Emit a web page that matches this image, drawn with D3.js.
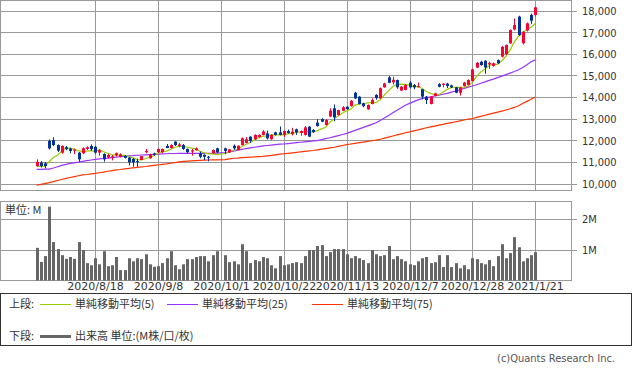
<!DOCTYPE html>
<html><head><meta charset="utf-8">
<script src="https://cdn.jsdelivr.net/npm/d3@7"></script>
<style>body{margin:0;background:#fff}svg{display:block}</style>
</head><body>
<script>
// ---- data (index 44 = 2020/10/1, no trading) ----
const opens=[10830,10990,10950,11990,12030,11800,11450,11700,11640,11540,
11450,11420,11620,11760,11720,11450,11390,11230,11210,11320,
11250,11300,11220,11160,11060,11110,11470,11190,11410,11470,
11470,11760,11660,11960,11760,11800,11620,11500,11560,11420,
11350,11260,11420,11650,null,11650,11460,11770,11570,11800,
11900,12190,12070,12170,12270,12340,12070,12390,12390,12270,
12450,12300,12530,12360,12270,12650,12500,12840,13000,12730,
13120,13500,13190,13390,13570,13600,14220,14040,13730,13450,
13700,14120,13960,14470,14930,14700,14810,14320,14350,14690,
14580,14480,14380,14040,13700,14070,14620,14580,14640,14560,
14470,14220,14530,14580,14760,15380,15650,15700,15530,15460,
15730,15890,16010,16510,17150,17740,16510,17100,17820,17810];
const highs=[11140,11060,11020,12060,12160,11830,11790,11760,11680,11630,
11480,11700,11740,11830,11760,11600,11420,11390,11340,11460,
11420,11340,11250,11200,11180,11300,11620,11400,11450,11640,
11640,11850,11840,11980,11900,11850,11640,11620,11690,11500,
11380,11300,11600,11680,null,11680,11620,11830,11790,12160,
12170,12200,12300,12300,12490,12470,12300,12420,12660,12480,
12520,12600,12560,12480,12680,12680,12540,13000,13040,12990,
13500,13680,13440,13600,13600,13880,14260,14060,13760,13680,
13960,14150,14460,14680,15000,14960,14830,14530,14620,14760,
14620,14690,14400,14070,14060,14220,14660,14660,14680,14590,
14490,14490,14720,14840,15330,15640,15700,15720,15660,15620,
15760,16380,16450,17150,17650,17780,17070,17470,17880,18200];
const lows=[10800,10760,10720,11600,11750,11480,11400,11560,11420,11380,
11030,11380,11570,11540,11400,11310,11030,11180,11090,11270,
11230,11180,10860,10800,10800,11100,11420,11170,11300,11440,
11440,11700,11640,11760,11700,11580,11410,11310,11540,11190,
11100,11050,11400,11430,null,11380,11440,11580,11550,11790,
11880,11900,12040,12150,12250,12060,12040,12240,12250,12180,
12330,12250,12270,12230,12230,12170,12360,12650,12860,12700,
13090,12900,13160,13370,13440,13580,13930,13680,13550,13430,
13680,13900,13940,14450,14660,14600,14400,14300,14330,14420,
14380,14470,13920,13700,13680,14050,14470,14470,14440,14440,
14200,14090,14510,14560,14740,15360,15470,15100,15320,15420,
15550,15850,15960,16480,17100,16850,16450,17050,17400,17750];
const closes=[11030,10830,10830,11650,11800,11540,11760,11610,11530,11590,
11140,11650,11700,11610,11450,11560,11140,11340,11280,11420,
11370,11210,11000,11000,11030,11290,11530,11370,11350,11620,
11620,11660,11800,11800,11830,11620,11470,11560,11650,11260,
11260,11230,11570,11460,null,11530,11600,11650,11770,12110,
12070,11990,12270,12270,12430,12110,12270,12270,12270,12450,
12360,12420,12390,12450,12620,12190,12400,12680,12880,12960,
13390,13080,13420,13550,13460,13850,13960,13700,13600,13650,
13880,13970,14430,14650,14680,14820,14470,14500,14580,14470,
14470,14520,14040,13880,14040,14190,14500,14640,14530,14470,
14220,14470,14690,14810,15300,15610,15500,15390,15600,15580,
15580,16350,16430,17120,17350,16890,17040,17430,17550,18170];
const volumes=[1.07,0.61,0.80,2.42,1.26,1.03,0.83,0.71,0.77,0.71,
1.26,1.00,0.57,0.50,0.73,0.53,0.96,0.47,0.50,0.77,
0.34,0.34,0.73,0.63,0.73,0.70,0.86,0.53,0.45,0.47,
0.57,0.73,0.96,0.50,0.37,0.53,0.70,0.70,0.77,0.80,
0.80,0.63,0.83,0.96,null,0.83,0.60,0.63,0.53,1.19,
0.96,0.57,0.67,0.63,0.77,0.73,0.50,0.40,0.80,0.50,
0.53,0.57,0.60,0.57,0.80,1.00,1.00,1.13,1.16,0.80,
0.93,1.03,1.03,1.03,0.86,0.73,0.80,0.73,0.67,0.57,
1.00,0.86,0.80,0.83,1.13,0.70,0.80,0.70,0.63,0.53,
0.50,0.63,0.73,0.77,0.57,0.60,0.83,0.44,0.83,0.44,
0.57,0.40,0.50,0.37,0.73,0.70,0.57,0.53,0.67,0.47,
0.80,1.19,0.73,0.90,1.42,1.09,0.63,0.73,0.83,0.93];
const ma5=[10820,10810,10820,11030,11230,11330,11520,11670,11650,11610,
11530,11500,11520,11540,11510,11590,11490,11420,11350,11350,
11320,11330,11260,11210,11130,11110,11170,11240,11310,11430,
11500,11520,11610,11700,11740,11740,11700,11660,11630,11510,
11440,11390,11390,11360,null,11410,11480,11560,11600,11730,
11840,11920,12040,12140,12210,12210,12270,12270,12270,12270,
12320,12350,12380,12410,12450,12410,12410,12470,12550,12620,
12860,13000,13150,13280,13380,13470,13650,13700,13710,13750,
13760,13760,13910,14120,14320,14510,14610,14620,14610,14570,
14500,14510,14420,14280,14190,14130,14130,14250,14380,14470,
14470,14470,14480,14530,14700,14980,15180,15320,15480,15540,
15530,15700,15910,16210,16570,16830,16970,17170,17250,17420];
const ma25=[10680,10680,10685,10690,10740,10800,10860,10910,10950,10980,
11010,11050,11080,11110,11140,11160,11180,11200,11220,11240,
11260,11280,11300,11310,11330,11340,11350,11360,11370,11380,
11390,11400,11410,11410,11420,11420,11420,11420,11420,11420,
11420,11420,11420,11430,null,11450,11480,11520,11560,11600,
11640,11670,11700,11730,11760,11780,11800,11820,11840,11850,
11870,11890,11910,11930,11950,11970,11990,12010,12050,12100,
12140,12190,12240,12290,12340,12410,12480,12550,12620,12690,
12760,12830,12940,13050,13170,13290,13410,13530,13640,13730,
13810,13890,13950,13990,14030,14070,14110,14150,14190,14250,
14300,14360,14420,14480,14530,14590,14660,14720,14790,14850,
14920,14990,15060,15130,15200,15280,15390,15520,15650,15740];
const ma75=[9950,9980,10020,10060,10110,10160,10210,10260,10300,10340,
10380,10420,10440,10470,10490,10520,10550,10590,10620,10650,
10670,10700,10720,10750,10770,10790,10810,10840,10860,10880,
10910,10930,10960,10990,11020,11050,11060,11070,11080,11090,
11100,11110,11120,11120,null,11130,11160,11190,11200,11220,
11230,11240,11250,11270,11280,11300,11320,11350,11380,11400,
11420,11440,11460,11490,11510,11530,11550,11580,11610,11640,
11670,11700,11740,11780,11820,11850,11880,11910,11940,11970,
12000,12030,12070,12120,12170,12220,12270,12320,12370,12410,
12460,12500,12550,12600,12640,12680,12720,12760,12800,12840,
12880,12920,12960,13000,13030,13080,13130,13180,13230,13280,
13320,13370,13420,13480,13540,13620,13720,13820,13920,14020];
const dateTickIdx=[14,29,44,59,74,89,104,119];
const dateTickLabels=["2020/8/18","2020/9/8","2020/10/1","2020/10/22","2020/11/13","2020/12/7","2020/12/28","2021/1/21"];
const priceTicks=[10000,11000,12000,13000,14000,15000,16000,17000,18000];
const volTicks=[1,2];
const volTickLabels=["1M","2M"];
const legendItems=[{label:"単純移動平均(5)",color:"#99cc00"},{label:"単純移動平均(25)",color:"#9933ff"},{label:"単純移動平均(75)",color:"#ff3300"}];

// ---- drawing ----
const W=633,H=373;
const UP="#ff0033",DOWN="#003399",GRID="#999";
const svg=d3.select("body").append("svg").attr("width",W).attr("height",H);
const font="'DejaVu Sans', sans-serif";
const condensed="'DejaVu Sans Condensed','DejaVu Sans',sans-serif";
const idx=d3.range(closes.length);
const x=d3.scaleLinear().domain([0,119]).range([36.6,535.3]);
const px=i=>Math.round(x(i));
const y=d3.scaleLinear().domain([10000,18000]).range([184,11]);
const yv=d3.scaleLinear().domain([0,2]).range([280.5,219.5]);
const L=0.5,R=571.5;

// top panel
const topG=svg.append("g");
topG.selectAll("line.h").data(priceTicks).join("line")
 .attr("x1",L).attr("x2",577).attr("y1",d=>Math.floor(y(d))+0.5).attr("y2",d=>Math.floor(y(d))+0.5)
 .attr("stroke",GRID).attr("stroke-width",1);
topG.selectAll("line.v").data(dateTickIdx).join("line")
 .attr("x1",d=>px(d)+0.5).attr("x2",d=>px(d)+0.5).attr("y1",0.5).attr("y2",190.5)
 .attr("stroke",GRID);
topG.append("rect").attr("x",L).attr("y",0.5).attr("width",R-L).attr("height",190)
 .attr("fill","none").attr("stroke",GRID);
topG.selectAll("text.yl").data(priceTicks).join("text")
 .attr("x",582).attr("y",d=>y(d)).attr("dy","0.36em")
 .attr("font-family",condensed).attr("font-size",11).attr("fill","#333")
 .text(d=>d3.format(",")(d));

// moving averages
const lineGen=arr=>d3.line().x(i=>x(i)).y(i=>y(arr[i]))(idx.filter(i=>arr[i]!=null));
[[ma75,"#ff3300"],[ma25,"#9933ff"],[ma5,"#99cc00"]].forEach(([arr,c])=>{
 topG.append("path").attr("d",lineGen(arr)).attr("fill","none").attr("stroke",c).attr("stroke-width",1.2);
});

// candles
const cidx=idx.filter(i=>opens[i]!=null);
const cg=topG.append("g");
cg.selectAll("line").data(cidx).join("line")
 .attr("x1",i=>px(i)+0.5).attr("x2",i=>px(i)+0.5)
 .attr("y1",i=>y(highs[i])).attr("y2",i=>y(lows[i]))
 .attr("stroke",i=>closes[i]>=opens[i]?UP:DOWN).attr("stroke-width",1);
cg.selectAll("rect").data(cidx).join("rect")
 .attr("x",i=>px(i)-1).attr("width",3)
 .attr("y",i=>y(Math.max(opens[i],closes[i])))
 .attr("height",i=>Math.max(1,Math.abs(y(opens[i])-y(closes[i]))))
 .attr("fill",i=>closes[i]>=opens[i]?UP:DOWN);

// volume panel
const vp=svg.append("g");
vp.selectAll("line.h").data(volTicks).join("line")
 .attr("x1",L).attr("x2",577).attr("y1",d=>Math.floor(yv(d))+0.5).attr("y2",d=>Math.floor(yv(d))+0.5)
 .attr("stroke",GRID);
vp.selectAll("line.v").data(dateTickIdx).join("line")
 .attr("x1",d=>px(d)+0.5).attr("x2",d=>px(d)+0.5).attr("y1",201.5).attr("y2",280.5)
 .attr("stroke",GRID);
vp.append("rect").attr("x",L).attr("y",201.5).attr("width",R-L).attr("height",79)
 .attr("fill","none").attr("stroke",GRID);
vp.selectAll("rect.bar").data(idx.filter(i=>volumes[i]!=null)).join("rect")
 .attr("x",i=>px(i)-1).attr("width",3)
 .attr("y",i=>yv(volumes[i])).attr("height",i=>280.5-yv(volumes[i]))
 .attr("fill","#666");
vp.selectAll("text.vl").data(volTicks).join("text")
 .attr("x",582).attr("y",d=>yv(d)).attr("dy","0.36em")
 .attr("font-family",condensed).attr("font-size",11).attr("fill","#333")
 .text((d,k)=>volTickLabels[k]);
vp.append("text").attr("x",5).attr("y",210).attr("dy","0.36em")
 .attr("font-family","'Noto Sans CJK JP',sans-serif").attr("font-size",11).attr("fill","#333").text("単位: M");

// date labels
svg.selectAll("text.xl").data(dateTickIdx).join("text")
 .attr("x",d=>px(d)+0.5).attr("y",286).attr("dy","0.36em").attr("text-anchor","middle")
 .attr("font-family",font).attr("font-size",11).attr("fill","#333")
 .text((d,k)=>dateTickLabels[k]);

// legend
const lg=svg.append("g");
lg.append("rect").attr("x",0.5).attr("y",293.5).attr("width",631).attr("height",52).attr("fill","#fff").attr("stroke","#333");
const jp="'Noto Sans CJK JP',sans-serif";
lg.append("text").attr("x",9).attr("y",304).attr("dy","0.36em").attr("font-family",jp).attr("font-size",11).attr("fill","#333").text("上段:");
const lx=[40,167,312];
legendItems.forEach((it,k)=>{
 lg.append("line").attr("x1",lx[k]).attr("x2",lx[k]+31).attr("y1",304.5).attr("y2",304.5).attr("stroke",it.color).attr("stroke-width",1);
 lg.append("text").attr("x",lx[k]+35).attr("y",304).attr("dy","0.36em").attr("font-family",jp).attr("font-size",11).attr("fill","#333").text(it.label);
});
lg.append("text").attr("x",9).attr("y",336).attr("dy","0.36em").attr("font-family",jp).attr("font-size",11).attr("fill","#333").text("下段:");
lg.append("line").attr("x1",40).attr("x2",71).attr("y1",336.5).attr("y2",336.5).attr("stroke","#666").attr("stroke-width",3);
lg.append("text").attr("x",75).attr("y",336).attr("dy","0.36em").attr("font-family",jp).attr("font-size",11).attr("fill","#333").text("出来高 単位:(M株/口/枚)");

svg.append("text").attr("x",615).attr("y",358).attr("dy","0.36em").attr("text-anchor","end")
 .attr("font-family",condensed).attr("font-size",11).attr("fill","#555").text("(c)Quants Research Inc.");
</script>
</body></html>
